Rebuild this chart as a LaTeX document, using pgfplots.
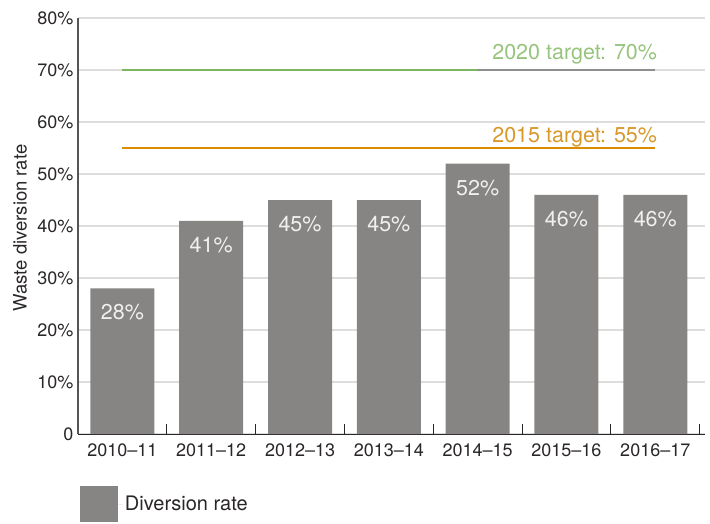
\documentclass[border=0pt]{standalone}
\usepackage{fontspec}
\setmainfont{TeX Gyre Heros}
\usepackage{pgfplots}
\pgfplotsset{compat=1.18}
\definecolor{barc}{HTML}{878583}
\definecolor{greenl}{HTML}{7DB560}
\definecolor{greent}{HTML}{97C47C}
\definecolor{grayl}{HTML}{8E8D90}
\definecolor{orangel}{HTML}{DC8C00}
\definecolor{oranget}{HTML}{D8982A}
\definecolor{txt}{HTML}{2A2627}
\definecolor{gridc}{HTML}{DDDDDD}
\definecolor{axc}{HTML}{555555}
\begin{document}
\begin{tikzpicture}
\path[use as bounding box] (-78pt,-89pt) rectangle (632pt,434pt);
\begin{axis}[
  at={(0pt,0pt)}, anchor=south west,
  scale only axis, width=627pt, height=416pt,
  xmin=-0.5, xmax=6.56, ymin=0, ymax=80,
  axis x line=bottom, axis y line=left,
  x axis line style={-, draw=txt, line width=1pt},
  y axis line style={-, draw=axc, line width=1.5pt},
  xtick={0,...,6},
  xticklabels={2010--11,2011--12,2012--13,2013--14,2014--15,2015--16,2016--17},
  major tick length=0pt,
  extra x ticks={0.5,1.5,2.5,3.5,4.5,5.5,6.5},
  extra x tick labels={},
  extra tick style={major tick length=10pt, tick align=inside, tick style={draw=txt, line width=1pt}},
  ytick={0,10,...,80},
  yticklabels={0,10\%,20\%,30\%,40\%,50\%,60\%,70\%,80\%},
  ymajorgrids, grid style={draw=gridc, line width=1.2pt},
  tick label style={font=\fontsize{18}{20}\selectfont, text=txt},
  xticklabel style={yshift=-6pt},
  yticklabel style={xshift=-1pt},
  /pgf/number format/assume math mode=true,
  ylabel={Waste diversion rate},
  every axis y label/.style={at={(-58pt,206pt)}, rotate=90, anchor=center, font=\fontsize{18.5}{20}\selectfont, text=txt},
  legend style={at={(axis description cs:0,0)}, anchor=north west, xshift=2pt, yshift=-52pt,
    draw=none, fill=none, inner sep=0pt, outer sep=0pt,
    font=\fontsize{20}{22}\selectfont, text=txt},
  legend cell align=left,
]
\addplot[ybar, bar width=64pt, fill=barc, draw=none,
  nodes near coords={\pgfmathprintnumber{\pgfplotspointmeta}\%},
  every node near coord/.append style={anchor=north, yshift=-16pt, inner sep=0pt,
    font=\fontsize{21.5}{23}\selectfont, text=white!94!black},
  legend image code/.code={\fill[barc] (0pt,-18pt) rectangle (38pt,18pt); \path (0pt,0pt) -- (43pt,0pt);}
] coordinates {(0,28) (1,41) (2,45) (3,45) (4,52) (5,46) (6,46)};
\addlegendentry{Diversion rate}
\addplot[forget plot, draw=greenl, line width=2pt] coordinates {(0,70) (4,70)};
\addplot[forget plot, draw=grayl, line width=2pt] coordinates {(4,70) (6,70)};
\addplot[forget plot, draw=orangel, line width=2pt] coordinates {(0,55) (6,55)};
\node[anchor=base east, inner sep=0pt, text=greent, font=\fontsize{21.5}{23}\selectfont, yshift=11pt, xshift=2pt] at (axis cs:6,70) {2020 target: 70\%};
\node[anchor=base east, inner sep=0pt, text=oranget, font=\fontsize{21.5}{23}\selectfont, yshift=6pt, xshift=2pt] at (axis cs:6,55) {2015 target: 55\%};
\end{axis}
\end{tikzpicture}
\end{document}
